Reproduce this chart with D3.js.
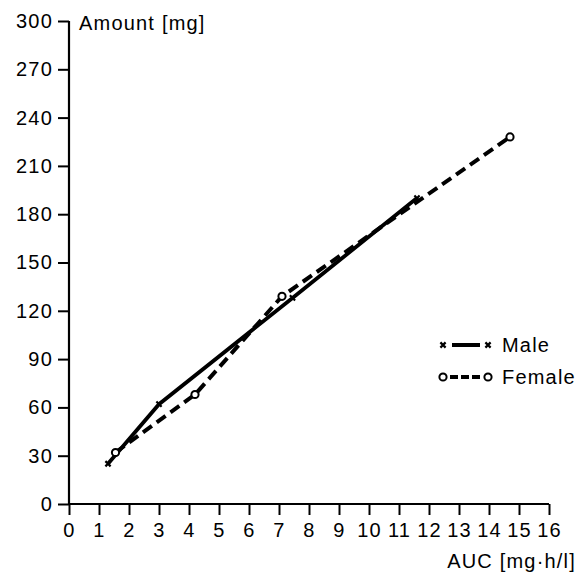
<!DOCTYPE html>
<html>
<head>
<meta charset="utf-8">
<script src="https://cdn.jsdelivr.net/npm/d3@7"></script>
<style>
  body { margin: 0; background: #fff; }
  text { font-family: "Liberation Sans", Arial, sans-serif; fill: #000; font-size: 20px; letter-spacing: 1.2px; }
</style>
</head>
<body>
<div id="chart"></div>
<script>
// DATA
const maleAuc = [1.3, 3.0, 7.45, 11.6]
const maleAmount = [25, 62, 128, 190]
const femaleAuc = [1.55, 4.2, 7.1, 14.7]
const femaleAmount = [32, 68, 129, 228]
const xTicks = d3.range(0, 17)
const yTicks = d3.range(0, 301, 30)
const seriesNames = ["Male", "Female"]

// DIMENSIONS
const width = 577
const height = 574
const margin = { top: 21, right: 28, bottom: 70, left: 69 }

const svg = d3.select("#chart")
  .append("svg")
  .attr("width", width)
  .attr("height", height)

const xScale = d3.scaleLinear()
  .domain([0, 16])
  .range([margin.left, width - margin.right])

const yScale = d3.scaleLinear()
  .domain([0, 300])
  .range([height - margin.bottom, margin.top])

// AXES
const xAxis = svg.append("g")
  .attr("transform", `translate(0, ${yScale(0)})`)
  .call(d3.axisBottom(xScale).tickValues(xTicks).tickSize(11).tickPadding(5).tickFormat(d3.format("d")))
const yAxis = svg.append("g")
  .attr("transform", `translate(${xScale(0)}, 0)`)
  .call(d3.axisLeft(yScale).tickValues(yTicks).tickSize(11).tickPadding(5).tickFormat(d3.format("d")))

;[xAxis, yAxis].forEach(ax => {
  ax.select(".domain").attr("stroke", "#000").attr("stroke-width", 2.2)
    .attr("d", ax === xAxis
      ? `M${xScale(0)},0H${xScale(16)}`
      : `M0,${yScale(0)}V${yScale(300)}`)
  ax.selectAll(".tick line").attr("stroke", "#000").attr("stroke-width", 2)
  ax.selectAll(".tick text").attr("fill", "#000")
  ax.attr("font-size", null).attr("font-family", null)
})
xAxis.selectAll(".tick text").attr("dy", "0.85em")

svg.append("text")
  .attr("x", 79).attr("y", 30)
  .text("Amount [mg]")

svg.append("text")
  .attr("x", 576).attr("y", 568)
  .attr("text-anchor", "end")
  .text("AUC [mg·h/l]")

// LINES
const line = d3.line()
  .x(d => xScale(d[0]))
  .y(d => yScale(d[1]))

const male = d3.zip(maleAuc, maleAmount)
const female = d3.zip(femaleAuc, femaleAmount)

svg.append("path")
  .datum(male)
  .attr("d", line)
  .attr("fill", "none")
  .attr("stroke", "#000")
  .attr("stroke-width", 3.8)

svg.append("path")
  .datum(female)
  .attr("d", line)
  .attr("fill", "none")
  .attr("stroke", "#000")
  .attr("stroke-width", 4)
  .attr("stroke-dasharray", "11,6")

const cross = (g, x, y) => {
  const s = 2.6
  g.append("path")
    .attr("d", `M${x - s},${y - s}L${x + s},${y + s}M${x - s},${y + s}L${x + s},${y - s}`)
    .attr("stroke", "#000")
    .attr("stroke-width", 2.2)
}
const ring = (g, x, y) => {
  g.append("circle")
    .attr("cx", x).attr("cy", y).attr("r", 3.6)
    .attr("fill", "#fff")
    .attr("stroke", "#000")
    .attr("stroke-width", 2)
}

const marks = svg.append("g")
male.forEach(d => cross(marks, xScale(d[0]), yScale(d[1])))
female.forEach(d => ring(marks, xScale(d[0]), yScale(d[1])))

// LEGEND
const legend = svg.append("g")
const ly = [345, 377]
legend.append("line")
  .attr("x1", 443).attr("x2", 488).attr("y1", ly[0]).attr("y2", ly[0])
  .attr("stroke", "#000").attr("stroke-width", 4)
  .attr("stroke-dasharray", "0,9,28,100")
cross(legend, 443, ly[0])
cross(legend, 488, ly[0])

legend.append("line")
  .attr("x1", 443).attr("x2", 488).attr("y1", ly[1]).attr("y2", ly[1])
  .attr("stroke", "#000").attr("stroke-width", 4)
  .attr("stroke-dasharray", "0,7,8,3,8,3,8,100")
ring(legend, 443, ly[1])
ring(legend, 488, ly[1])

legend.selectAll("text.lab")
  .data(seriesNames)
  .enter()
  .append("text")
  .attr("class", "lab")
  .attr("x", 502)
  .attr("y", (d, i) => ly[i] + 7)
  .text(d => d)
</script>
</body>
</html>
